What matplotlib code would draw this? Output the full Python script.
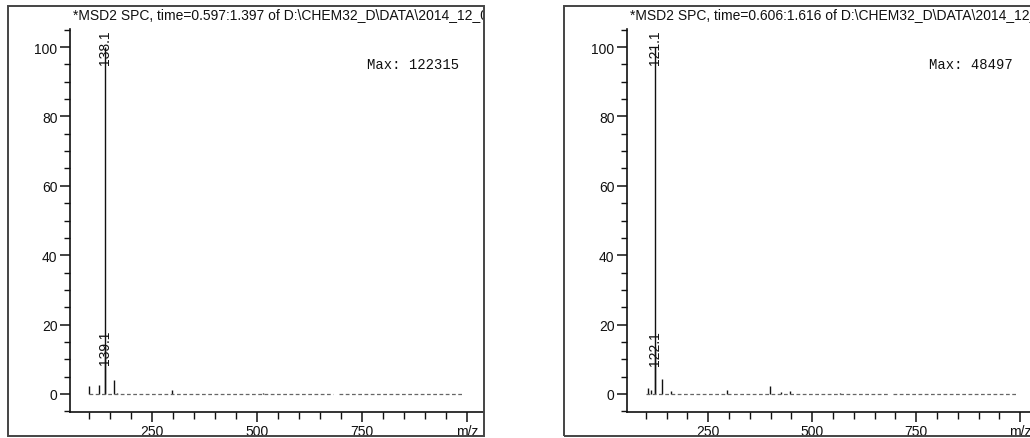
import matplotlib.pyplot as plt
from matplotlib.patches import Rectangle
from matplotlib.ticker import MultipleLocator
import numpy as np

plt.rcParams['font.family'] = ['Liberation Sans', 'DejaVu Sans']

# spectrum 1
titles = ['*MSD2 SPC, time=0.597:1.397 of D:\\CHEM32_D\\DATA\\2014_12_05\\SIG10001.D',
          '*MSD2 SPC, time=0.606:1.616 of D:\\CHEM32_D\\DATA\\2014_12_05\\SIG10002.D']
max_counts = [122315, 48497]

mz_1 = [100.1, 124.1, 138.1, 139.1, 160.1, 166.0, 297.1, 514.0]
int_1 = [2.3, 2.6, 100.0, 13.5, 3.9, 0.4, 1.1, 0.4]
labels_1 = ['138.1', '139.1']

# spectrum 2
mz_2 = [106.1, 113.0, 121.1, 122.1, 139.1, 161.0, 296.0, 399.1, 425.0, 447.0, 567.0]
int_2 = [1.7, 1.0, 100.0, 13.5, 4.4, 0.8, 1.0, 2.3, 0.6, 0.8, 0.4]
labels_2 = ['121.1', '122.1']

# noise floor ranges (m/z)
baseline_1 = [(100, 680), (695, 990)]
baseline_2 = [(100, 683), (695, 990)]

ink = '#111111'

fig = plt.figure(figsize=(10.30, 4.39), dpi=100)

# outer frames (pixel coords -> figure fractions)
W, H = 1030, 439
for x0, x1 in [(8, 484), (564, 1040)]:
    fig.patches.append(Rectangle((x0 / W, 1 - 437 / H), (x1 - x0) / W, 430 / H,
                                 transform=fig.transFigure, fill=False,
                                 edgecolor='#444444', lw=1.4))


def draw_spectrum(ax, mz, inten, labels, base, title, mx, frame_right, max_x):
    ax.vlines(mz, 0, inten, color=ink, lw=1.0)
    for lo, hi in base:
        ax.hlines(0, lo, hi, color='#666666', lw=0.9, linestyle=(0, (3, 2)))
    # label the two main peaks
    for lab in labels:
        i = mz.index(float(lab))
        ax.text(mz[i], inten[i], lab, rotation=90, ha='center', va='center',
                fontsize=10, color=ink)

    ax.set_xlim(55, 1038)
    ax.set_ylim(-5.2, 105.2)
    ax.spines['top'].set_visible(False)
    ax.spines['right'].set_visible(False)
    for s in ['left', 'bottom']:
        ax.spines[s].set_color(ink)
        ax.spines[s].set_linewidth(1.2)

    ax.set_yticks([0, 20, 40, 60, 80, 100])
    ax.yaxis.set_minor_locator(MultipleLocator(5))
    ax.set_xticks([250, 500, 750, 1000])
    ax.set_xticklabels(['250', '500', '750', 'm/z'])
    ax.set_xticks(np.arange(100, 1001, 50), minor=True)
    ax.tick_params(which='major', length=7, width=1.1, color=ink, labelsize=10,
                   labelcolor=ink, pad=2)
    ax.tick_params(which='minor', length=4, width=1.0, color=ink)
    ax.tick_params(axis='x', which='minor', length=5)

    # title text, clipped by the frame (the instrument printout cuts it too)
    t = fig.text(ax.get_position().x0 + 3 / W, 1 - 15 / H, title, fontsize=10,
                 color=ink, va='center', ha='left')
    clip = Rectangle((0, 0), frame_right / W, 1, transform=fig.transFigure)
    t.set_clip_path(clip)

    ax.text(max_x, 0.908, 'Max: %d' % mx, transform=ax.transAxes, fontsize=10,
            family='Liberation Mono', color=ink, ha='left', va='center')


ax1 = fig.add_axes([70 / W, 26 / H, 413 / W, 383 / H])
draw_spectrum(ax1, mz_1, int_1, labels_1, baseline_1, titles[0], max_counts[0], 483, 0.72)

ax2 = fig.add_axes([627 / W, 26 / H, 409 / W, 383 / H])
draw_spectrum(ax2, mz_2, int_2, labels_2, baseline_2, titles[1], max_counts[1], 1030, 0.738)

fig.savefig('out.png', dpi=100)
